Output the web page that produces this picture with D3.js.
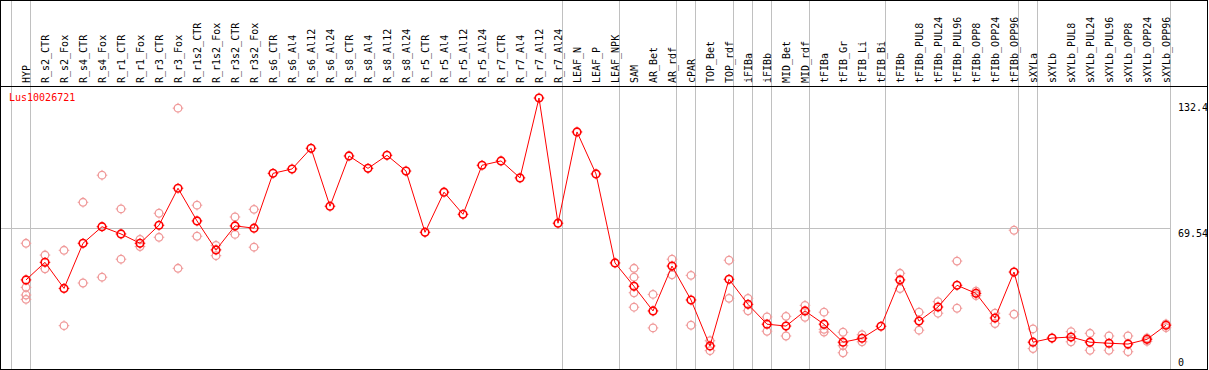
<!DOCTYPE html>
<html>
<head>
<meta charset="utf-8">
<script src="https://cdn.jsdelivr.net/npm/d3@7"></script>
<style>
  body { margin: 0; background: #fff; }
  svg { display: block; font-family: "DejaVu Sans Mono", monospace; font-size: 10px; }
</style>
</head>
<body>
<svg></svg>
<script>
let width = 1209;
let height = 370;

const geneName = "Lus10026721";

const categories = ["HYP", "R_s2_CTR", "R_s2_Fox", "R_s4_CTR", "R_s4_Fox", "R_r1_CTR", "R_r1_Fox",
  "R_r3_CTR", "R_r3_Fox", "R_r1s2_CTR", "R_r1s2_Fox", "R_r3s2_CTR", "R_r3s2_Fox",
  "R_s6_CTR", "R_s6_Al4", "R_s6_Al12", "R_s6_Al24", "R_s8_CTR", "R_s8_Al4", "R_s8_Al12", "R_s8_Al24",
  "R_r5_CTR", "R_r5_Al4", "R_r5_Al12", "R_r5_Al24", "R_r7_CTR", "R_r7_Al4", "R_r7_Al12", "R_r7_Al24",
  "LEAF_N", "LEAF_P", "LEAF_NPK", "SAM", "AR_Bet", "AR_rdf", "cPAR", "TOP_Bet", "TOP_rdf",
  "iFIBa", "iFIBb", "MID_Bet", "MID_rdf", "tFIBa", "tFIB_Gr", "tFIB_Li", "tFIB_Bi",
  "tFIBb", "tFIBb_PUL8", "tFIBb_PUL24", "tFIBb_PUL96", "tFIBb_OPP8", "tFIBb_OPP24", "tFIBb_OPP96",
  "sXYLa", "sXYLb", "sXYLb_PUL8", "sXYLb_PUL24", "sXYLb_PUL96", "sXYLb_OPP8", "sXYLb_OPP24", "sXYLb_OPP96"];

// mean expression per sample
const means = [44.5, 53.0, 40.4, 62.2, 70.2, 66.7, 62.2, 70.9, 88.8, 73.0, 59.0, 70.6, 69.5,
  96.0, 98.1, 108.1, 80.1, 104.4, 98.4, 104.7, 97.1, 67.5, 86.9, 76.2, 99.9, 102.0, 93.8, 132.4, 71.9,
  116.0, 95.7, 52.7, 41.4, 29.5, 51.2, 34.8, 12.6, 44.8, 32.7, 23.1, 22.2, 29.5,
  23.1, 14.4, 16.3, 22.1, 44.5, 24.6, 31.4, 41.9, 38.0, 26.1, 48.3,
  14.4, 16.4, 16.9, 14.4, 13.9, 13.5, 15.8, 22.6];

// replicate values per sample
const replicates = [
  [62.2, 40.9, 37.2, 35.1], [56.5, 49.9], [58.8, 22.4], [82.0, 43.0], [95.1, 45.8], [78.8, 54.5],
  [64.1, 60.6], [76.7, 65.1], [127.5, 50.1], [80.6, 65.6], [61.2, 56.2], [74.9, 66.5], [78.6, 60.3],
  [], [], [], [], [], [], [], [], [], [], [], [], [], [], [], [],
  [], [], [],
  [50.1, 45.8, 38.3, 31.3], [37.5, 21.3], [54.5, 47.0], [46.7, 22.6], [15.1, 10.3], [54.0, 35.6],
  [35.6, 29.6], [26.6, 19.7], [26.9, 17.4], [32.2, 26.4],
  [28.9, 20.6, 19.3], [19.2, 12.7, 9.3], [18.0, 14.6], [],
  [47.7, 40.3], [28.9, 20.2], [34.0, 28.4], [53.6, 30.8], [39.1, 36.9], [28.4, 23.4], [68.5, 27.9],
  [20.8, 11.3], [], [19.5, 14.6], [18.7, 10.5], [17.4, 10.5], [17.4, 9.8], [16.4, 14.8], [23.2, 21.4]];

// last sample index of each group (separator drawn after it)
const groupEnds = [-1, 0, 28, 31, 34, 35, 37, 38, 39, 41, 45, 52, 53, 60];

const axisTicks = [132.4, 69.54, 0];

const plotTop = 86, plotBottom = 369;

const x = d3.scaleLinear()
  .domain([0, categories.length - 1])
  .range([26, 26 + 19 * (categories.length - 1)]);

const y = d3.scaleLinear()
  .domain([0, d3.max(means)])
  .range([372, 98]);

const svg = d3.select("svg")
  .attr("width", width)
  .attr("height", height);

// group separators
svg.append("g")
  .attr("stroke", "#c0c0c0")
  .selectAll("line")
  .data(groupEnds)
  .join("line")
  .attr("x1", d => Math.round(x(d) + 4) + 0.5)
  .attr("x2", d => Math.round(x(d) + 4) + 0.5)
  .attr("y1", 0)
  .attr("y2", plotBottom);

// reference line at the middle tick
svg.append("line")
  .attr("stroke", "#c0c0c0")
  .attr("x1", 1)
  .attr("x2", Math.round(x(categories.length - 1) + 4) + 0.5)
  .attr("y1", Math.round(y(axisTicks[1])) + 0.5)
  .attr("y2", Math.round(y(axisTicks[1])) + 0.5);

// frame
svg.append("rect")
  .attr("x", 0.5).attr("y", 0.5)
  .attr("width", width - 2).attr("height", plotBottom)
  .attr("fill", "none").attr("stroke", "#000");

svg.append("line")
  .attr("stroke", "#000")
  .attr("x1", 0).attr("x2", width - 1)
  .attr("y1", plotTop + 0.5).attr("y2", plotTop + 0.5);

// sample labels
svg.append("g")
  .selectAll("text")
  .data(categories)
  .join("text")
  .attr("transform", (d, i) => `translate(${x(i) + 4},83) rotate(-90)`)
  .text(d => d);

// axis labels on the right
svg.append("g")
  .selectAll("text")
  .data(axisTicks)
  .join("text")
  .attr("x", 1178)
  .attr("y", (d, i) => i === 0 ? y(d) + 13 : i === 1 ? y(d) + 8.5 : plotBottom - 3)
  .text(d => d);

svg.append("text")
  .attr("x", 9)
  .attr("y", 101)
  .attr("fill", "#ff0000")
  .text(geneName);

function marker(g, color, sw) {
  g.append("circle")
    .attr("r", 3.8)
    .attr("fill", "none")
    .attr("stroke", color)
    .attr("stroke-width", sw);
  g.append("path")
    .attr("d", "M0,-4V-5.3M0,4V5.3M-4,0H-5.3M4,0H5.3")
    .attr("stroke", color)
    .attr("stroke-width", 1);
}

// replicates
const reps = replicates.flatMap((r, i) => r.map(v => ({ i: i, v: v })));
svg.append("g")
  .selectAll("g")
  .data(reps)
  .join("g")
  .attr("transform", d => `translate(${x(d.i)},${y(d.v)})`)
  .each(function() { marker(d3.select(this), "#f09a9a", 1.3); });

// mean line
svg.append("path")
  .datum(means)
  .attr("fill", "none")
  .attr("stroke", "#ff0000")
  .attr("stroke-width", 1)
  .attr("d", d3.line().x((d, i) => x(i)).y(d => y(d)));

svg.append("g")
  .selectAll("g")
  .data(means)
  .join("g")
  .attr("transform", (d, i) => `translate(${x(i)},${y(d)})`)
  .each(function() { marker(d3.select(this), "#ff0000", 1.6); });
</script>
</body>
</html>
